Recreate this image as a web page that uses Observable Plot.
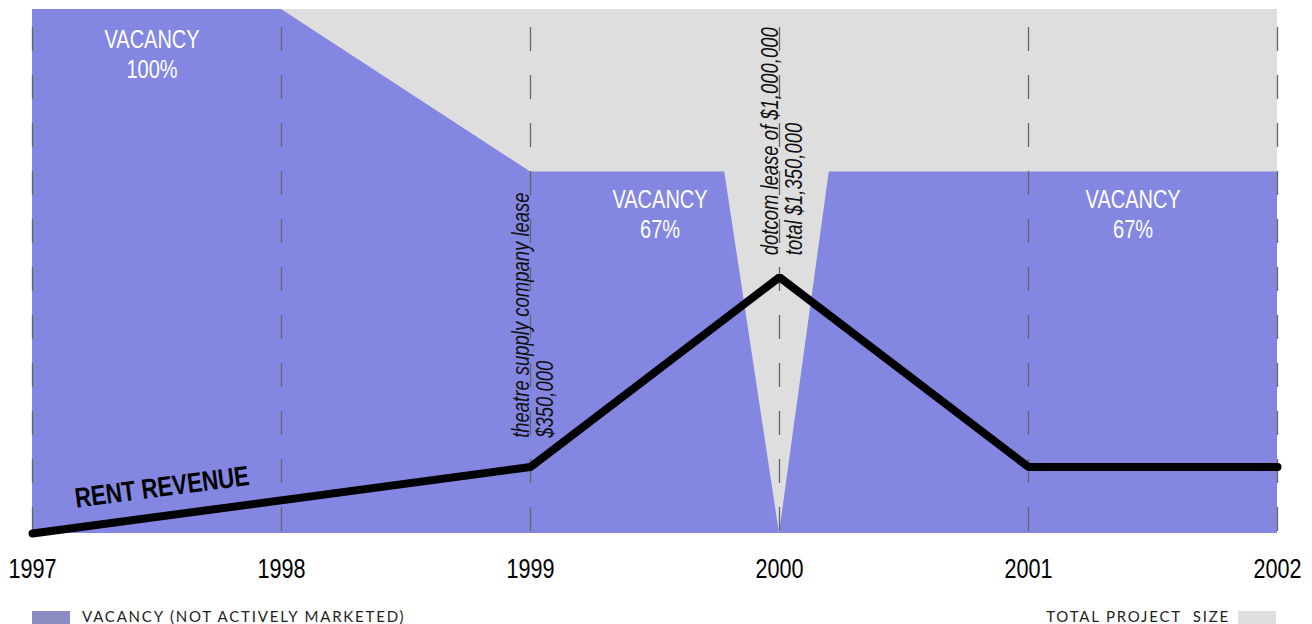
<!DOCTYPE html>
<html><head><meta charset="utf-8">
<script src="https://cdn.jsdelivr.net/npm/d3@7"></script>
<script src="https://cdn.jsdelivr.net/npm/@observablehq/plot@0.6"></script>
<style>
html,body{margin:0;padding:0;background:#fff;overflow:hidden;width:1312px;height:624px}
#chart svg{display:block}
.lt{position:absolute;top:610px;white-space:pre;font-family:Lato,"Open Sans",sans-serif;font-size:15px;letter-spacing:1.8px;color:#222;line-height:12px;height:12px}
.sw{position:absolute;top:611px;width:38px;height:13px}
</style></head><body>
<div id="chart"></div>
<div class="sw" style="left:32px;background:#8b8bc1"></div>
<div class="lt" style="left:82px">VACANCY (NOT ACTIVELY MARKETED)</div>
<div class="lt" style="right:82px;text-align:right">TOTAL PROJECT  SIZE</div>
<div class="sw" style="left:1238px;background:#dfdfdf"></div>
<script>
// ---- data ----
const years = [1997, 1998, 1999, 2000, 2001, 2002];
const totalSize = [100, 100, 100, 100, 100, 100];            // % of project
const vacancyX = [1997, 1998, 1999, 1999.78, 2000, 2000.2, 2002];
const vacancyPct = [100, 100, 69, 69, 0, 69, 69];             // % vacant
const revenueYears = [1997, 1999, 2000, 2001, 2002];
const revenue = [0, 350000, 1350000, 350000, 350000];          // dollars
const revenueTop = 2760000;                                    // revenue at top of frame
const vacancyLabels = ["VACANCY\n100%", "VACANCY\n67%", "VACANCY\n67%"];
const vacancyLabelX = [1997.48, 1999.52, 2001.42];
const vacancyLabelY = [91.6, 61.1, 61.1];
const noteText = ["theatre supply company lease\n$350,000", "dotcom lease of $1,000,000\ntotal $1,350,000"];
const noteX = [1999, 2000];
const noteY = [18.3, 53.1];

const font = "'Liberation Sans',Arial,sans-serif";

const chart = Plot.plot({
  width: 1312, height: 600,
  marginLeft: 32, marginRight: 35, marginTop: 9, marginBottom: 67,
  x: {domain: [1997, 2002]},
  y: {domain: [0, 100], axis: null},
  style: {fontFamily: font, background: "transparent", overflow: "visible"},
  marks: [
    Plot.areaY(years, {x: d => d, y: (d, i) => totalSize[i], fill: "#dedede"}),
    Plot.areaY(vacancyX, {x: d => d, y: (d, i) => vacancyPct[i], fill: "#8387e1"}),
    Plot.ruleX(years, {x: d => d, y1: 100, y2: 0, stroke: "#666", strokeWidth: 1.3,
      strokeDasharray: "24,24", strokeDashoffset: 30}),
    Plot.line(revenueYears, {x: d => d, y: (d, i) => revenue[i] / revenueTop * 100,
      stroke: "#000", strokeWidth: 8, strokeLinejoin: "miter", strokeLinecap: "round"}),
    Plot.text(vacancyLabels, {x: (d, i) => vacancyLabelX[i], y: (d, i) => vacancyLabelY[i],
      text: d => d, fill: "#fff", fontSize: 25, lineHeight: 1.2, lineAnchor: "middle", textAnchor: "middle"}),
    Plot.text(noteText, {x: (d, i) => noteX[i], y: (d, i) => noteY[i], text: d => d,
      rotate: -90, textAnchor: "start", lineAnchor: "bottom", fontSize: 24, lineHeight: 1.0,
      fontStyle: "italic", fill: "#111", dx: 22}),
    Plot.text(["RENT REVENUE"], {x: 1997.52, y: 8.8, text: d => d, rotate: -7.5,
      fontSize: 28, fontWeight: "bold", fill: "#000", textAnchor: "middle", lineAnchor: "middle"}),
    Plot.axisX({ticks: years, tickFormat: d => String(d), tickSize: 0, tickPadding: 25,
      fontSize: 27, fill: "#000"})
  ]
});
document.getElementById("chart").appendChild(chart);

// emulate a narrow (condensed) typeface: Arial Narrow ≈ Arial squeezed to ~80% width,
// squeezing each text along its own direction about its anchor point
const SVGNS = "http://www.w3.org/2000/svg";
Array.from(chart.querySelectorAll("text")).forEach(t => {
  const italic = !!t.closest("[font-style='italic']");
  const f = italic ? 0.77 : 0.8;
  const r = t.getBoundingClientRect();
  const m = t.getScreenCTM();
  const th = Math.atan2(m.b, m.a);
  const ae = t.closest("[text-anchor]");
  const anchor = ae ? ae.getAttribute("text-anchor") : "start";
  let cx = r.x + r.width / 2, cy = r.y + r.height / 2;
  if (anchor !== "middle") {
    const L = Math.abs(r.width * Math.cos(th)) + Math.abs(r.height * Math.sin(th));
    const s = anchor === "start" ? -1 : 1;
    cx += s * Math.cos(th) * L / 2; cy += s * Math.sin(th) * L / 2;
  }
  const pt = chart.createSVGPoint(); pt.x = cx; pt.y = cy;
  const q = pt.matrixTransform(t.parentNode.getScreenCTM().inverse());
  const deg = th * 180 / Math.PI;
  const g = document.createElementNS(SVGNS, "g");
  g.setAttribute("transform",
    `translate(${q.x},${q.y}) rotate(${deg}) scale(${f},1) rotate(${-deg}) translate(${-q.x},${-q.y})`);
  t.parentNode.insertBefore(g, t);
  g.appendChild(t);
});
</script>
</body></html>
